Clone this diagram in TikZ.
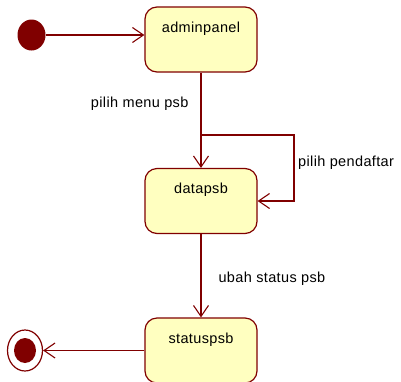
\documentclass[tikz,border=0pt]{standalone}
\usepackage{fontspec}
\setmainfont{Liberation Sans}[LetterSpace=2.5]
\usetikzlibrary{arrows.meta,shapes.geometric}
\definecolor{umlred}{RGB}{128,0,0}
\definecolor{umlfill}{RGB}{255,255,192}
\tikzset{
  state/.style={rectangle, rounded corners=12pt, draw=umlred, fill=umlfill, line width=1.2pt,
    minimum width=112pt, inner sep=0pt, text height=25pt, text depth=40pt},
  trans/.style={draw=umlred, line width=1.1pt, -{Straight Barb[length=11pt,width=15pt,line width=1.1pt]}},
  lbl/.style={inner sep=0pt}
}
\begin{document}
\begin{tikzpicture}[x=1pt, y=-1pt, font=\fontsize{14.5}{17}\selectfont]
  \useasboundingbox (0,0) rectangle (401,381);
  \node[ellipse, fill=umlred, minimum width=28pt, minimum height=31pt, inner sep=0pt] (start) at (31.5,35) {};
  \node[state] (adminpanel) at (201,39.5) {adminpanel};
  \node[state] (datapsb) at (201,201) {datapsb};
  \node[state] (statuspsb) at (201,350.5) {statuspsb};
  \node[ellipse, draw=umlred, line width=1.2pt, minimum width=35pt, minimum height=41pt, inner sep=0pt] (stop) at (25,350.5) {};
  \node[ellipse, fill=umlred, minimum width=22pt, minimum height=25pt, inner sep=0pt] (stopdot) at (stop) {};
  \coordinate (split) at (201,135);
  \draw[trans] (start.east) -- (start.east -| adminpanel.west);
  \draw[trans] (adminpanel) -- (datapsb.north)
    node[lbl, pos=0.33, left=12pt] {pilih menu psb};
  \draw[trans] (split) -| (294,201) -- (datapsb.east);
  \node[lbl, anchor=west] (pendaftar) at (298,163) {pilih pendaftar};
  \draw[trans] (datapsb.south) -- (statuspsb.north)
    node[lbl, pos=0.53, right=17pt] {ubah status psb};
  \draw[trans] (statuspsb.west) -- (stop.east);
\end{tikzpicture}
\end{document}
